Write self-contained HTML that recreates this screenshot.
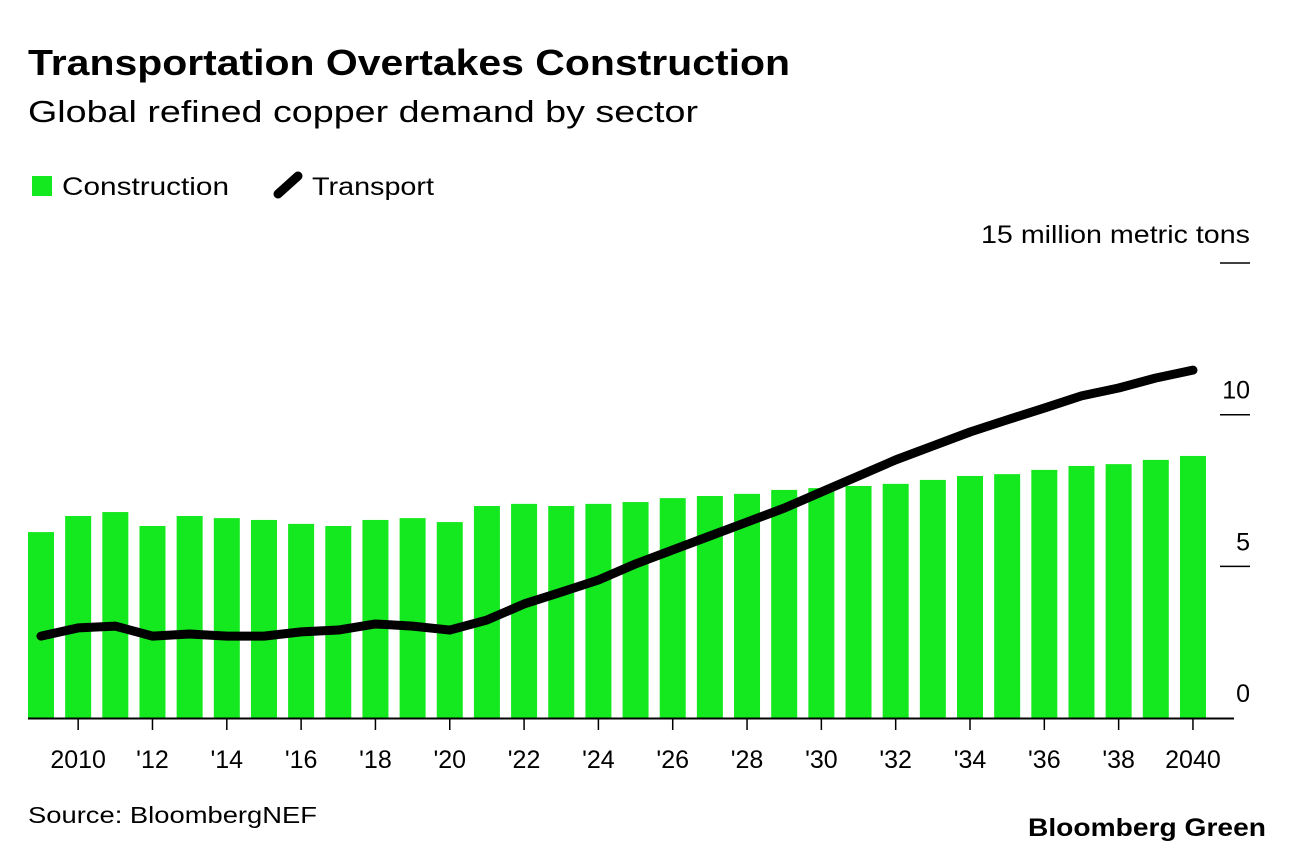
<!DOCTYPE html>
<html><head><meta charset="utf-8"><style>
body{margin:0;background:#fff;font-family:"Liberation Sans",sans-serif;}
svg{display:block}
</style></head><body>
<svg width="1296" height="854" id="c">
<text x="28" y="75" font-size="36" font-weight="bold" fill="#000" textLength="762" lengthAdjust="spacingAndGlyphs">Transportation Overtakes Construction</text>
<text x="28" y="122" font-size="31" fill="#000" textLength="670" lengthAdjust="spacingAndGlyphs">Global refined copper demand by sector</text>
<g>
<rect x="32" y="176" width="20" height="20" fill="#14e81e"/>
<text x="62" y="195" font-size="25" textLength="167" lengthAdjust="spacingAndGlyphs">Construction</text>
<line x1="278" y1="194" x2="298" y2="176" stroke="#000" stroke-width="9" stroke-linecap="round"/>
<text x="312" y="195" font-size="25" textLength="122" lengthAdjust="spacingAndGlyphs">Transport</text>
</g>
<text x="981" y="243" font-size="25" textLength="269" lengthAdjust="spacingAndGlyphs">15 million metric tons</text>
<g id="bars"></g>
<g id="axes"></g>
<path id="line" fill="none" stroke="#000" stroke-width="9" stroke-linejoin="round" stroke-linecap="round"/>
<text x="28" y="823" font-size="23" textLength="289" lengthAdjust="spacingAndGlyphs">Source: BloombergNEF</text>
<text x="1028" y="836" font-size="25" font-weight="bold" textLength="238" lengthAdjust="spacingAndGlyphs">Bloomberg Green</text>
</svg>
<script>
const years=[2009,2010,2011,2012,2013,2014,2015,2016,2017,2018,2019,2020,2021,2022,2023,2024,2025,2026,2027,2028,2029,2030,2031,2032,2033,2034,2035,2036,2037,2038,2039,2040];
const construction=[6.13,6.66,6.79,6.33,6.66,6.59,6.53,6.40,6.33,6.53,6.59,6.46,6.99,7.06,6.99,7.06,7.12,7.25,7.32,7.39,7.52,7.58,7.65,7.72,7.85,7.98,8.04,8.18,8.31,8.37,8.51,8.64];
const transport=[2.70,2.97,3.03,2.70,2.77,2.70,2.70,2.84,2.90,3.10,3.03,2.90,3.23,3.76,4.15,4.55,5.08,5.54,6.00,6.46,6.92,7.45,7.98,8.51,8.97,9.43,9.83,10.22,10.62,10.88,11.21,11.47];
const yTicks=[0,5,10,15];
const xTickYears=[2010,2012,2014,2016,2018,2020,2022,2024,2026,2028,2030,2032,2034,2036,2038,2040];
const xTickLabels=["2010","'12","'14","'16","'18","'20","'22","'24","'26","'28","'30","'32","'34","'36","'38","2040"];
const NS="http://www.w3.org/2000/svg";
const x=y=>41+(y-2009)*37.16;
const yv=v=>718-v*30.33;
function mk(t,a,p){const e=document.createElementNS(NS,t);for(const k in a)e.setAttribute(k,a[k]);p.appendChild(e);return e;}
const bars=document.getElementById('bars'),axes=document.getElementById('axes');
years.forEach((yr,i)=>{const r=mk('rect',{x:x(yr)-13,y:yv(construction[i]),width:26,height:yv(0)-yv(construction[i]),fill:'#14e81e'},bars);

});
const bl=mk('line',{x1:28,x2:1234,y1:718.5,y2:718.5,stroke:'#000','stroke-width':2},axes);


yTicks.forEach(v=>{if(v>0){const l=mk('line',{x1:1220,x2:1250,y1:yv(v),y2:yv(v),stroke:'#000','stroke-width':1.5},axes);

}
if(v<15){const t=mk('text',{x:1250,y:yv(v)-16,'font-size':25,'text-anchor':'end'},axes);t.textContent=String(v);

}});
xTickYears.forEach((yr,i)=>{const l=mk('line',{x1:x(yr),x2:x(yr),y1:719,y2:730,stroke:'#000','stroke-width':1.5},axes);


const t=mk('text',{x:x(yr),y:768,'font-size':25,'text-anchor':'middle'},axes);t.textContent=xTickLabels[i];

});
document.getElementById('line').setAttribute('d',years.map((yr,i)=>(i?'L':'M')+x(yr)+','+yv(transport[i])).join(''));
</script>
</body></html>
